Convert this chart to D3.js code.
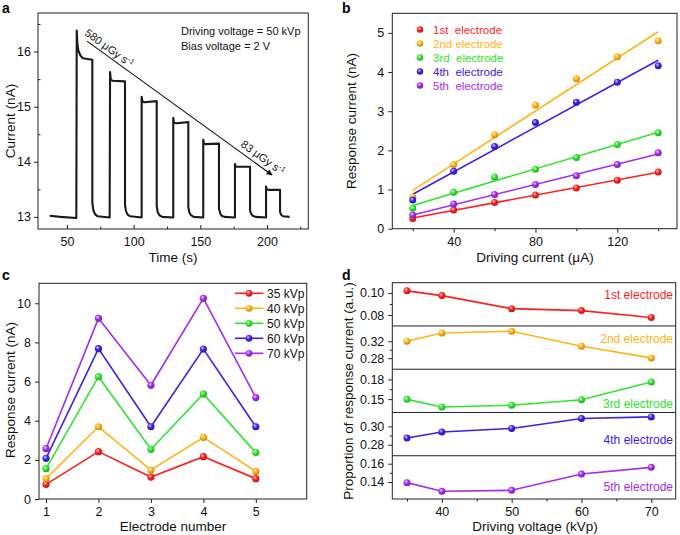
<!DOCTYPE html>
<html><head><meta charset="utf-8">
<script src="https://cdn.jsdelivr.net/npm/d3@7"></script>
<style>
body{margin:0;background:#fff}
svg{display:block;font-family:"Liberation Sans",Arial,Helvetica,sans-serif}
</style>
</head><body>
<svg id="chart" width="680" height="535"></svg>
<script>
// ---------------- DATA ----------------
// Panel a: current trace
const traceTime = [37,45,57,
 57.3,57.8,58.5,60,62,69,
 69,69.8,71,73,82,
 82.3,82.8,84,93.5,
 93.5,94.3,95.5,97.5,106,
 106,106.5,108,117.3,
 117.3,118,119.3,121.5,129.7,
 129.7,130.2,132,141,
 141,141.8,143,145,152.2,
 152.2,152.7,154,164,
 164,164.8,166,168,176,
 176,176.5,178,187.3,
 187.3,188,189.3,191.5,199.3,
 199.3,199.8,201,209.8,
 209.8,210.6,212,217];
const traceCurrent = [13.02,13.0,12.98,
 16.38,16.15,16.02,15.93,15.88,15.85,
 13.26,13.12,13.05,13.01,12.99,
 15.63,15.5,15.47,15.46,
 13.22,13.1,13.04,13.01,12.99,
 15.18,15.1,15.08,15.1,
 13.2,13.09,13.03,13.0,12.99,
 14.80,14.71,14.70,14.72,
 13.18,13.08,13.03,13.0,12.99,
 14.40,14.33,14.32,14.33,
 13.15,13.07,13.02,13.0,12.99,
 13.96,13.91,13.91,13.91,
 13.12,13.06,13.02,13.0,12.99,
 13.55,13.50,13.49,13.49,
 13.09,13.04,13.01,13.0];
const aXTicks = [50,100,150,200];
const aXMinor = [75,125,175,225];
const aYTicks = [13,14,15,16];
const aYMinor = [13.5,14.5,15.5,16.5];
const arrowStart = [65,16.19];
const arrowEnd = [203.8,13.76];
const annotTexts = ["580 \u03bcGy s", "83 \u03bcGy s"];
const annotPos = [[62.7,16.31],[179.8,14.29]];
const infoTexts = ["Driving voltage = 50 kVp","Bias voltage = 2 V"];

// Panel b
const drivingCurrent = [20,40,60,80,100,120,140];
const b1st = [0.26,0.48,0.67,0.86,1.04,1.24,1.45];
const b2nd = [0.81,1.64,2.40,3.16,3.83,4.39,4.80];
const b3rd = [0.52,0.93,1.32,1.52,1.82,2.15,2.45];
const b4th = [0.73,1.47,2.10,2.71,3.23,3.74,4.16];
const b5th = [0.35,0.63,0.875,1.13,1.35,1.64,1.94];
const bLegend = ["1st  electrode","2nd electrode","3rd  electrode","4th  electrode","5th  electrode"];
const bXTicks = [40,80,120];
const bXMinor = [20,60,100,140];
const bYTicks = [0,1,2,3,4,5];

// Panel c
const electrodeNumber = [1,2,3,4,5];
const c35 = [0.75,2.42,1.12,2.16,1.04];
const c40 = [1.04,3.69,1.48,3.15,1.41];
const c50 = [1.55,6.25,2.54,5.37,2.37];
const c60 = [2.08,7.68,3.69,7.66,3.69];
const c70 = [2.57,9.23,5.81,10.25,5.18];
const cLegend = ["35 kVp","40 kVp","50 kVp","60 kVp","70 kVp"];
const cYTicks = [0,2,4,6,8,10];

// Panel d
const drivingVoltage = [35,40,50,60,70];
const d1st = [0.1019,0.0976,0.0858,0.0840,0.0778];
const d2nd = [0.320,0.3395,0.3435,0.3082,0.2807];
const d3rd = [0.1496,0.138,0.1406,0.1491,0.176];
const d4th = [0.2873,0.2939,0.2978,0.3086,0.3104];
const d5th = [0.1393,0.1298,0.1309,0.1487,0.156];
const dLabels = ["1st electrode","2nd electrode","3rd electrode","4th electrode","5th electrode"];
const dYTicks = [[0.08,0.10],[0.28,0.32],[0.15,0.18],[0.28,0.30],[0.14,0.16]];
const dYMinor = [[0.09],[0.30],[0.165],[0.29],[0.15]];
const dYDomains = [[0.0701,0.1093],[0.254,0.356],[0.1296,0.1956],[0.268,0.3152],[0.1214,0.1687]];
const dXTicks = [40,50,60,70];
const dXMinor = [35,45,55,65];

const colors = ["#ff1f1f","#ffb514","#2ee62e","#3c20e6","#a52bf0"];

// ---------------- DRAW ----------------
const svg = d3.select("#chart");
const FS = "12.5px";
const fmtInt = d3.format("d");
const defs = svg.append("defs");
colors.forEach((c,i)=>{
  const g = defs.append("radialGradient").attr("id","ball"+i)
    .attr("cx","0.38").attr("cy","0.35").attr("r","0.7");
  g.append("stop").attr("offset","0%").attr("stop-color", d3.interpolateRgb(c,"#fff")(0.75));
  g.append("stop").attr("offset","45%").attr("stop-color", c);
  g.append("stop").attr("offset","100%").attr("stop-color", d3.color(c).darker(0.9));
});
defs.append("marker").attr("id","arrow").attr("viewBox","0 0 10 10")
  .attr("refX",9).attr("refY",5).attr("markerWidth",7).attr("markerHeight",6)
  .attr("markerUnits","userSpaceOnUse").attr("orient","auto")
  .append("path").attr("d","M0,0 L10,5 L0,10 z").attr("fill","#111");

function styleAxis(g){
  g.select(".domain").remove();
  g.selectAll("line").attr("stroke","#222");
  g.selectAll("text").attr("fill","#111").style("font-size",FS)
    .style("font-family",'"Liberation Sans",Arial,sans-serif');
  g.attr("font-family",null).attr("font-size",null);
}
function frame(L,T,R,B){
  svg.append("rect").attr("x",L).attr("y",T).attr("width",R-L).attr("height",B-T)
    .attr("fill","none").attr("stroke","#222").attr("stroke-width",1);
}
function panelLabel(t,x,y){
  svg.append("text").attr("x",x).attr("y",y).text(t)
    .style("font-weight","bold").style("font-size","14px").attr("fill","#000");
}
function yTitle(t,x,cy){
  svg.append("text").attr("transform",`translate(${x},${cy}) rotate(-90)`)
    .attr("text-anchor","middle").style("font-size","13.5px").attr("fill","#111").text(t);
}
function xTitle(t,cx,y){
  svg.append("text").attr("x",cx).attr("y",y).attr("text-anchor","middle")
    .style("font-size","13.5px").attr("fill","#111").text(t);
}
function ball(g,x,y,i,r){
  g.append("circle").attr("cx",x).attr("cy",y).attr("r",r||3.5)
    .attr("fill",`url(#ball${i})`);
}

// ===== Panel a =====
{
  const L=38,R=308.3,T=13,B=229;
  const x = d3.scaleLinear().domain([28.25,231]).range([L,R]);
  const y = d3.scaleLinear().domain([12.78,16.7]).range([B,T]);
  styleAxis(svg.append("g").attr("transform",`translate(0,${B})`)
    .call(d3.axisBottom(x).tickValues(aXTicks).tickSize(-4).tickPadding(8).tickFormat(fmtInt)));
  styleAxis(svg.append("g").attr("transform",`translate(0,${B})`)
    .call(d3.axisBottom(x).tickValues(aXMinor).tickSize(-2.5).tickFormat("")));
  styleAxis(svg.append("g").attr("transform",`translate(${L},0)`)
    .call(d3.axisLeft(y).tickValues(aYTicks).tickSize(4).tickPadding(3).tickFormat(fmtInt)));
  styleAxis(svg.append("g").attr("transform",`translate(${L},0)`)
    .call(d3.axisLeft(y).tickValues(aYMinor).tickSize(-2.5).tickFormat("")));
  frame(L,T,R,B);
  const pts = traceTime.map((t,i)=>[t,traceCurrent[i]]);
  svg.append("path").datum(pts)
    .attr("d", d3.line().x(d=>x(d[0])).y(d=>y(d[1])))
    .attr("fill","none").attr("stroke","#1a1a1a").attr("stroke-width",2.1)
    .attr("stroke-linejoin","round");
  svg.append("line").attr("x1",x(arrowStart[0])).attr("y1",y(arrowStart[1]))
    .attr("x2",x(arrowEnd[0])).attr("y2",y(arrowEnd[1]))
    .attr("stroke","#111").attr("stroke-width",1.1).attr("marker-end","url(#arrow)");
  const ang = Math.atan2(y(arrowEnd[1])-y(arrowStart[1]), x(arrowEnd[0])-x(arrowStart[0]))*180/Math.PI;
  annotTexts.forEach((t,i)=>{
    const tx = svg.append("text")
      .attr("transform",`translate(${x(annotPos[i][0])},${y(annotPos[i][1])}) rotate(${ang})`)
      .style("font-size","11px").attr("fill","#111");
    tx.append("tspan").text(t);
    tx.append("tspan").attr("dy",-4).style("font-size","7.5px").text("-1");
  });
  infoTexts.forEach((t,i)=>{
    svg.append("text").attr("x",181).attr("y",35+i*15).style("font-size","11px")
      .attr("fill","#111").text(t);
  });
  panelLabel("a",2,13);
  yTitle("Current (nA)",15,121);
  xTitle("Time (s)",173,262);
}

// ===== Panel b =====
{
  const L=392.3,R=677,T=13.3,B=228.7;
  const x = d3.scaleLinear().domain([10,149.2]).range([L,R]);
  const y = d3.scaleLinear().domain([0,5.5]).range([B,T]);
  styleAxis(svg.append("g").attr("transform",`translate(0,${B})`)
    .call(d3.axisBottom(x).tickValues(bXTicks).tickSize(4).tickPadding(4).tickFormat(fmtInt)));
  styleAxis(svg.append("g").attr("transform",`translate(0,${B})`)
    .call(d3.axisBottom(x).tickValues(bXMinor).tickSize(2.5).tickFormat("")));
  styleAxis(svg.append("g").attr("transform",`translate(${L},0)`)
    .call(d3.axisLeft(y).tickValues(bYTicks).tickSize(4).tickPadding(4).tickFormat(fmtInt)));
  frame(L,T,R,B);
  const series = [b1st,b2nd,b3rd,b4th,b5th];
  // least-squares fit lines drawn through the data
  series.forEach((s,i)=>{
    const mx = d3.mean(drivingCurrent), my = d3.mean(s);
    let num=0,den=0;
    drivingCurrent.forEach((xv,k)=>{num+=(xv-mx)*(s[k]-my);den+=(xv-mx)*(xv-mx);});
    const k = num/den, b0 = my-k*mx;
    const x0 = d3.min(drivingCurrent), x1 = d3.max(drivingCurrent);
    svg.append("line").attr("x1",x(x0)).attr("y1",y(b0+k*x0))
      .attr("x2",x(x1)).attr("y2",y(b0+k*x1))
      .attr("stroke",colors[i]).attr("stroke-width",1.6);
  });
  const gp = svg.append("g");
  series.forEach((s,i)=>{
    s.forEach((v,k)=>ball(gp,x(drivingCurrent[k]),y(v),i,3.5));
  });
  bLegend.forEach((t,i)=>{
    const yy = 29.5+i*14;
    ball(svg,420,yy,i,3.2);
    svg.append("text").attr("x",433).attr("y",yy).attr("dy","0.35em")
      .attr("xml:space","preserve").style("white-space","pre")
      .style("font-size","11.5px").attr("fill",colors[i]).text(t);
  });
  panelLabel("b",342,13);
  yTitle("Response current (nA)",356,121);
  xTitle("Driving current (\u03bcA)",535,262);
}

// ===== Panel c =====
{
  const L=39,R=306.7,T=283.3,B=499;
  const x = d3.scaleLinear().domain([0.866,5.97]).range([L,R]);
  const y = d3.scaleLinear().domain([0,11.02]).range([B,T]);
  styleAxis(svg.append("g").attr("transform",`translate(0,${B})`)
    .call(d3.axisBottom(x).tickValues(electrodeNumber).tickSize(4).tickPadding(4).tickFormat(fmtInt)));
  styleAxis(svg.append("g").attr("transform",`translate(${L},0)`)
    .call(d3.axisLeft(y).tickValues(cYTicks).tickSize(4).tickPadding(4).tickFormat(fmtInt)));
  frame(L,T,R,B);
  const series = [c35,c40,c50,c60,c70];
  series.forEach((s,i)=>{
    svg.append("path").datum(s)
      .attr("d", d3.line().x((d,k)=>x(electrodeNumber[k])).y(d=>y(d)))
      .attr("fill","none").attr("stroke",colors[i]).attr("stroke-width",1.6);
  });
  series.forEach((s,i)=>{
    s.forEach((v,k)=>ball(svg,x(electrodeNumber[k]),y(v),i,3.6));
  });
  cLegend.forEach((t,i)=>{
    const yy = 293.3+i*15;
    svg.append("line").attr("x1",235).attr("x2",263.3).attr("y1",yy).attr("y2",yy)
      .attr("stroke",colors[i]).attr("stroke-width",1.6);
    ball(svg,249,yy,i,3.4);
    svg.append("text").attr("x",267).attr("y",yy).attr("dy","0.36em")
      .style("font-size","12px").attr("fill","#111").text(t);
  });
  panelLabel("c",2,280);
  yTitle("Response current (nA)",15,390);
  xTitle("Electrode number",173,531);
}

// ===== Panel d =====
{
  const L=392.3,R=675.7,T=282.7,B=499;
  const n=5, h=(B-T)/n;
  const x = d3.scaleLinear().domain([32.9,73.5]).range([L,R]);
  const series = [d1st,d2nd,d3rd,d4th,d5th];
  const labelOff = [12.3,13.3,34.4,27.7,31];
  series.forEach((s,i)=>{
    const t0 = T+i*h, b0 = t0+h;
    const y = d3.scaleLinear().domain(dYDomains[i]).range([b0,t0]);
    styleAxis(svg.append("g").attr("transform",`translate(${L},0)`)
      .call(d3.axisLeft(y).tickValues(dYTicks[i]).tickSize(4).tickPadding(4)
        .tickFormat(d3.format(".2f"))));
    styleAxis(svg.append("g").attr("transform",`translate(${L},0)`)
      .call(d3.axisLeft(y).tickValues(dYMinor[i]).tickSize(2.5).tickFormat("")));
    svg.append("path").datum(s)
      .attr("d", d3.line().x((d,k)=>x(drivingVoltage[k])).y(d=>y(d)))
      .attr("fill","none").attr("stroke",colors[i]).attr("stroke-width",1.6);
    s.forEach((v,k)=>ball(svg,x(drivingVoltage[k]),y(v),i,3.5));
    svg.append("text").attr("x",673).attr("y",t0+labelOff[i]).attr("dy","0.35em")
      .attr("text-anchor","end").style("font-size","12px").attr("fill",colors[i]).text(dLabels[i]);
    if(i>0){
      svg.append("line").attr("x1",L).attr("x2",R).attr("y1",t0).attr("y2",t0)
        .attr("stroke","#222").attr("stroke-width",1);
    }
  });
  styleAxis(svg.append("g").attr("transform",`translate(0,${B})`)
    .call(d3.axisBottom(x).tickValues(dXTicks).tickSize(4).tickPadding(4).tickFormat(fmtInt)));
  styleAxis(svg.append("g").attr("transform",`translate(0,${B})`)
    .call(d3.axisBottom(x).tickValues(dXMinor).tickSize(2.5).tickFormat("")));
  frame(L,T,R,B);
  panelLabel("d",342,280);
  yTitle("Proportion of response current (a.u.)",353,391);
  xTitle("Driving voltage (kVp)",535,531);
}
</script>
</body></html>
